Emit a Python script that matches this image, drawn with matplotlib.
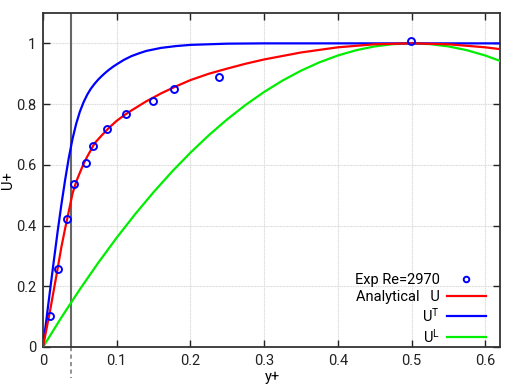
import matplotlib
matplotlib.use("Agg")
import matplotlib.pyplot as plt
from matplotlib.lines import Line2D
from matplotlib.ticker import FuncFormatter

plt.rcParams['font.family'] = ['Roboto', 'DejaVu Sans']
plt.rcParams['mathtext.fontset'] = 'custom'
plt.rcParams['mathtext.rm'] = 'Roboto'

# Experimental data (Re = 2970)
exp_y = [0.0091, 0.0204, 0.0326, 0.0417, 0.0583, 0.0679, 0.0869, 0.1126,
         0.1489, 0.1773, 0.2393, 0.499]
exp_u = [0.103, 0.256, 0.422, 0.536, 0.606, 0.663, 0.717, 0.766,
         0.809, 0.849, 0.888, 1.007]

# Analytical U (total)
u_y = [0, 0.01, 0.02, 0.025, 0.03, 0.035, 0.04, 0.045, 0.05, 0.055, 0.06,
       0.07, 0.08, 0.09, 0.1, 0.11, 0.12, 0.14, 0.16, 0.18, 0.2, 0.225,
       0.25, 0.275, 0.3, 0.35, 0.4, 0.45, 0.5, 0.55, 0.6, 0.62]
u_val = [0, 0.125, 0.26, 0.33, 0.39, 0.447, 0.505, 0.544, 0.574, 0.603, 0.627,
         0.671, 0.698, 0.723, 0.745, 0.763, 0.779, 0.809, 0.835, 0.858, 0.879,
         0.9, 0.917, 0.933, 0.947, 0.97, 0.987, 0.997, 1.0, 0.997, 0.987, 0.981]

# Analytical U^T (turbulent)
ut_y = [0, 0.005, 0.01, 0.015, 0.02, 0.025, 0.03, 0.035, 0.04, 0.045, 0.05,
        0.055, 0.06, 0.065, 0.07, 0.075, 0.08, 0.085, 0.09, 0.095, 0.1, 0.11,
        0.12, 0.13, 0.14, 0.16, 0.18, 0.2, 0.25, 0.3, 0.62]
ut_val = [0, 0.098, 0.195, 0.29, 0.383, 0.47, 0.55, 0.623, 0.685, 0.735, 0.775,
          0.806, 0.831, 0.851, 0.867, 0.881, 0.893, 0.904, 0.914, 0.923, 0.931,
          0.946, 0.958, 0.967, 0.975, 0.985, 0.991, 0.995, 0.999, 1.0, 1.0]

# Analytical U^L (laminar)
ul_y = [0, 0.025, 0.05, 0.075, 0.1, 0.125, 0.15, 0.175, 0.2, 0.225, 0.25,
        0.275, 0.3, 0.325, 0.35, 0.375, 0.4, 0.425, 0.45, 0.475, 0.5, 0.525,
        0.55, 0.575, 0.6, 0.62]
ul_val = [0, 0.0975, 0.19, 0.2775, 0.36, 0.4375, 0.51, 0.5775, 0.64, 0.6975,
          0.75, 0.7975, 0.84, 0.8775, 0.91, 0.9375, 0.96, 0.9775, 0.99, 0.9975,
          1.0, 0.9975, 0.99, 0.9775, 0.96, 0.9424]

marker_y = 0.0385

xticks = [0, 0.1, 0.2, 0.3, 0.4, 0.5, 0.6]
yticks = [0, 0.2, 0.4, 0.6, 0.8, 1.0]

fig = plt.figure(figsize=(5.15, 3.87), dpi=100)
ax = fig.add_axes([43/515, 1-347/387, (500-43)/515, (347-13)/387])

ax.set_xlim(0, 0.62)
ax.set_ylim(0, 1.1)
ax.set_xticks(xticks)
ax.set_yticks(yticks)
fmt = FuncFormatter(lambda v, p: '%g' % v)
ax.xaxis.set_major_formatter(fmt)
ax.yaxis.set_major_formatter(fmt)
ax.tick_params(direction='in', length=5, width=1, top=True, right=True,
               labelsize=10.5, pad=5, colors='#222222')
ax.grid(True, color='#dadada', linestyle=(0, (1, 0.6)), linewidth=0.8)
for s in ax.spines.values():
    s.set_color('#333333')
    s.set_linewidth(1.3)

# vertical reference line
ax.axvline(marker_y, color='#666666', lw=1.5, zorder=2)
ax.plot([marker_y, marker_y], [0, -0.093], transform=ax.get_xaxis_transform(),
        color='#808080', lw=1.2, ls=(0, (2.5, 2)), clip_on=False)

ax.plot(ul_y, ul_val, color='#00ee00', lw=1.6, zorder=3)
ax.plot(ut_y, ut_val, color='#0000ff', lw=1.6, zorder=3)
ax.plot(u_y, u_val, color='#ff0000', lw=1.6, zorder=3)
ax.plot(exp_y, exp_u, ls='none', marker='o', ms=5, mfc='none', mec='#0000ff',
        mew=1.4, zorder=4)

ax.set_xlabel('y+', fontsize=10.5)
ax.set_ylabel('U+', fontsize=10.5)
ax.xaxis.set_label_coords(0.502, -0.068)
ax.yaxis.set_label_coords(-0.062, 0.5)

handles = [Line2D([], [], ls='none', marker='o', ms=4, mfc='none', mec='#0000ff', mew=1.4),
           Line2D([], [], color='#ff0000', lw=1.6),
           Line2D([], [], color='#0000ff', lw=1.6),
           Line2D([], [], color='#00ee00', lw=1.6)]
labels = ['Exp Re=2970', 'Analytical   U', r'$\mathregular{U^T}$', r'$\mathregular{U^L}$']
ax.legend(handles, labels, loc='lower right', bbox_to_anchor=(0.975, -0.004),
          frameon=False, markerfirst=False, fontsize=10.5, handlelength=2.65,
          handletextpad=0.5, labelspacing=0.2, borderpad=0.2, borderaxespad=0)

fig.savefig('out.png', dpi=100)
